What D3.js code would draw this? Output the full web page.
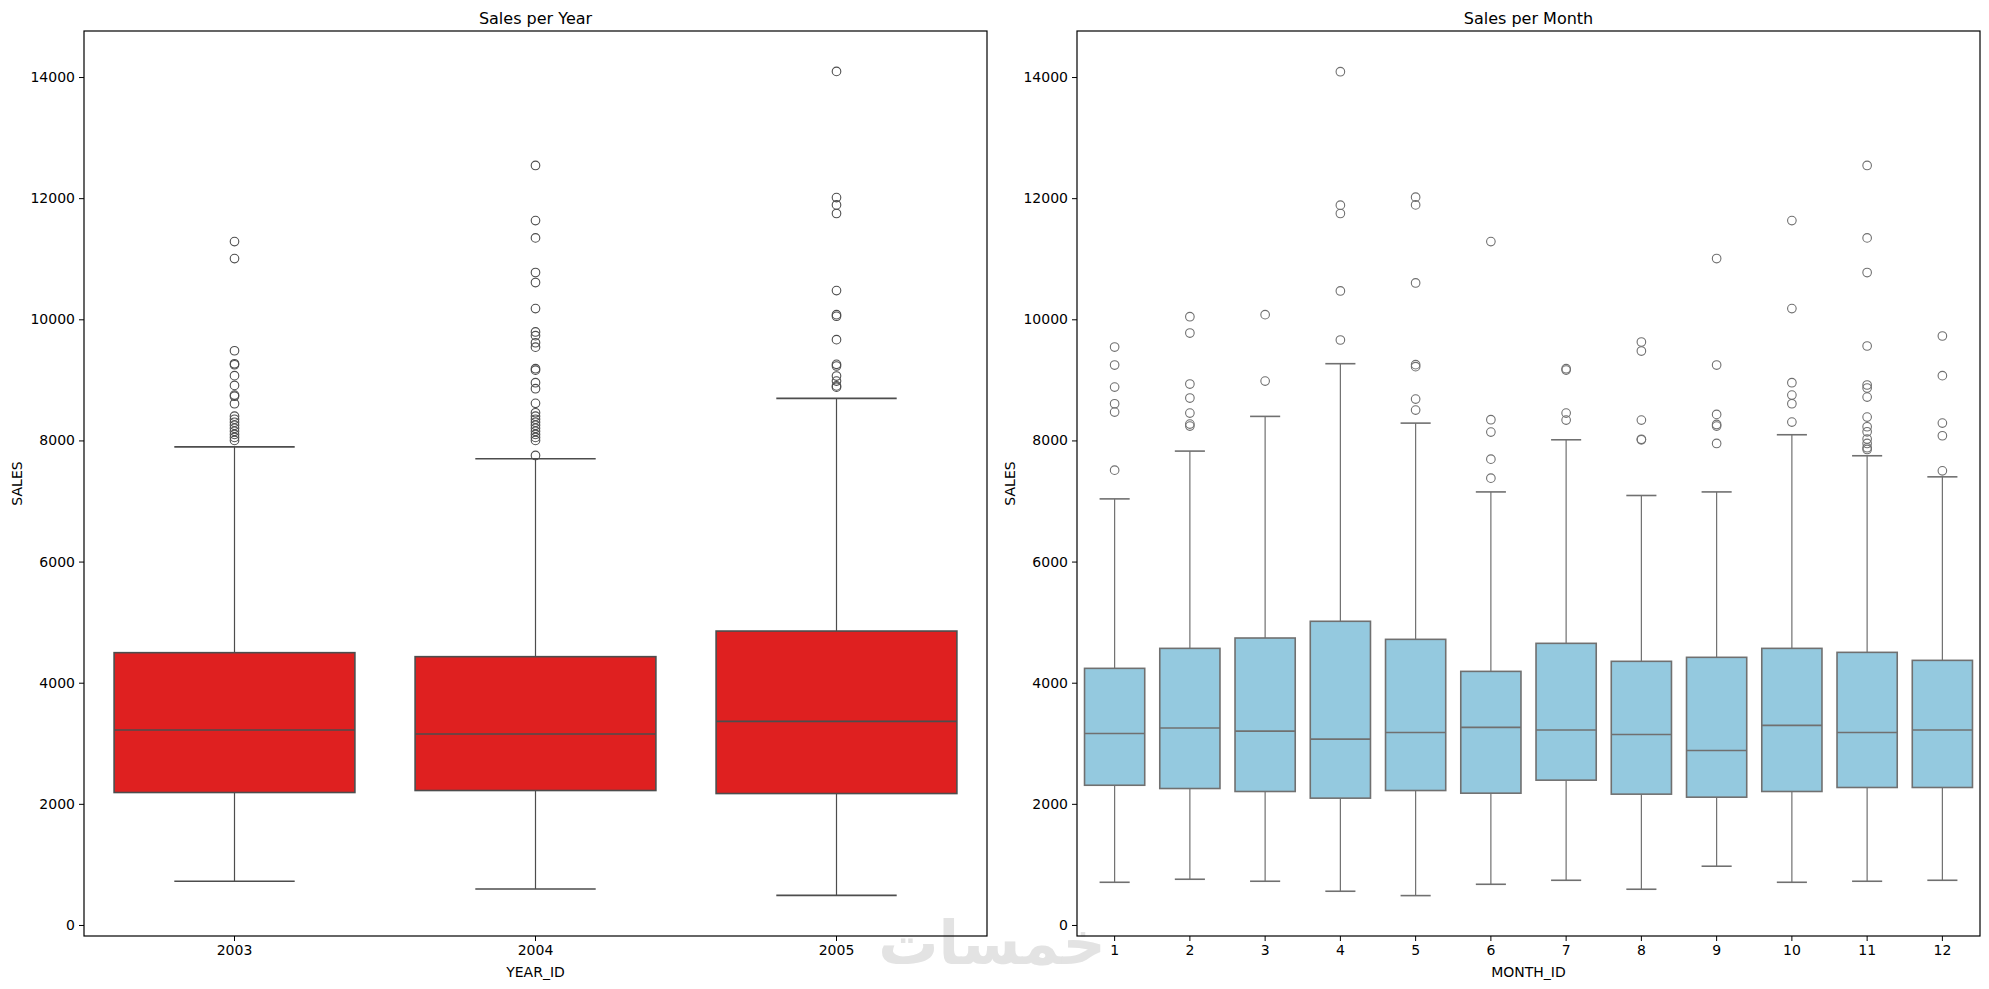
<!DOCTYPE html>
<html>
<head>
<meta charset="utf-8">
<script src="https://cdn.jsdelivr.net/npm/d3@7"></script>
<style>
  body { margin: 0; background: #fff; }
  text { font-family: "DejaVu Sans", sans-serif; fill: #000; }
  .tick text { font-size: 14px; }
  .tick line { stroke: #000; stroke-width: 1; }
  .title { font-size: 16px; }
  .label { font-size: 14px; }
</style>
</head>
<body>
<div id="viz"></div>
<script>
// --- yearly sales (box stats) ---
var years = ['2003', '2004', '2005'];
var yearLow = [722, 595, 489];
var yearQ1 = [2187, 2220, 2170];
var yearMed = [3218, 3152, 3361];
var yearQ3 = [4496, 4430, 4853];
var yearHigh = [7893, 7697, 8694];
var yearOut = [
  [11283, 11002, 9481, 9266, 9250, 9069, 8909, 8749, 8730, 8606, 8401, 8350, 8300, 8250, 8200, 8150, 8100, 8050, 8000],
  [12540, 11630, 11344, 10772, 10607, 10177, 9791, 9730, 9613, 9540, 9184, 9160, 8953, 8854, 8612, 8457, 8400, 8350, 8300, 8250, 8200, 8150, 8100, 8050, 8000, 7752],
  [14093, 12010, 11889, 11747, 10474, 10077, 10050, 9664, 9256, 9229, 9063, 8980, 8900, 8880]
];

// --- monthly sales ---
var months = ['1', '2', '3', '4', '5', '6', '7', '8', '9', '10', '11', '12'];
var monthLow = [705, 755, 722, 557, 485, 672, 738, 590, 970, 705, 722, 738];
var monthQ1 = [2307, 2253, 2204, 2094, 2220, 2176, 2391, 2160, 2110, 2204, 2270, 2270];
var monthMed = [3162, 3251, 3201, 3069, 3179, 3262, 3218, 3146, 2881, 3295, 3179, 3218];
var monthQ3 = [4237, 4567, 4738, 5014, 4716, 4187, 4650, 4353, 4419, 4567, 4501, 4369];
var monthHigh = [7035, 7824, 8397, 9267, 8286, 7150, 8011, 7091, 7150, 8094, 7747, 7399];
var monthOut = [
  [9542, 9245, 8881, 8606, 8468, 7509],
  [10043, 9773, 8931, 8700, 8452, 8270, 8237],
  [10077, 8980],
  [14088, 11884, 11747, 10468, 9658],
  [12017, 11889, 10600, 9251, 9218, 8683, 8501],
  [11283, 8342, 8138, 7691, 7377],
  [9184, 9162, 8452, 8336],
  [9625, 9476, 8336, 8020, 8010],
  [11003, 9245, 8430, 8264, 8237, 7950],
  [11630, 10177, 8953, 8749, 8606, 8303],
  [12540, 11344, 10772, 9559, 8915, 8865, 8716, 8386, 8226, 8143, 8024, 7950, 7879, 7851],
  [9724, 9069, 8286, 8077, 7498]
];

var yTicks = [0, 2000, 4000, 6000, 8000, 10000, 12000, 14000];

var W = 1989, H = 989;
var plotTop = 31, plotBottom = 936;

var svg = d3.select('#viz').append('svg')
  .attr('width', W)
  .attr('height', H);

// watermark
svg.append('text')
  .attr('x', 992)
  .attr('y', 964)
  .attr('text-anchor', 'middle')
  .style('font-size', '60px')
  .style('font-weight', 'bold')
  .style('fill', '#e3e3e3')
  .text('خمسات');

let yScale = d3.scaleLinear()
  .domain([-182, 14760])
  .range([plotBottom, plotTop]);

function boxPanel(cats, low, q1, med, q3, high, outs, left, right, fill, line, title, xLabel) {
  let data = cats.map((c, i) => ({
    cat: c, low: low[i], q1: q1[i], med: med[i], q3: q3[i], high: high[i], out: outs[i]
  }));

  let xScale = d3.scaleBand()
    .domain(cats)
    .range([left, right]);
  let bw = xScale.bandwidth() * 0.8;
  let cx = (d) => xScale(d.cat) + xScale.bandwidth() / 2;

  let g = svg.append('g');

  let boxes = g.selectAll('.box')
    .data(data)
    .enter()
    .append('g');

  // whiskers
  boxes.append('line')
    .attr('x1', cx).attr('x2', cx)
    .attr('y1', (d) => yScale(d.high)).attr('y2', (d) => yScale(d.q3))
    .attr('stroke', line).attr('stroke-width', 1.2);
  boxes.append('line')
    .attr('x1', cx).attr('x2', cx)
    .attr('y1', (d) => yScale(d.q1)).attr('y2', (d) => yScale(d.low))
    .attr('stroke', line).attr('stroke-width', 1.2);
  // caps
  ['high', 'low'].forEach((k) => {
    boxes.append('line')
      .attr('x1', (d) => cx(d) - bw / 4).attr('x2', (d) => cx(d) + bw / 4)
      .attr('y1', (d) => yScale(d[k])).attr('y2', (d) => yScale(d[k]))
      .attr('stroke', line).attr('stroke-width', 1.6);
  });

  boxes.append('rect')
    .attr('x', (d) => cx(d) - bw / 2)
    .attr('width', bw)
    .attr('y', (d) => yScale(d.q3))
    .attr('height', (d) => yScale(d.q1) - yScale(d.q3))
    .attr('fill', fill)
    .attr('stroke', line)
    .attr('stroke-width', 1.6);

  boxes.append('line')
    .attr('x1', (d) => cx(d) - bw / 2).attr('x2', (d) => cx(d) + bw / 2)
    .attr('y1', (d) => yScale(d.med)).attr('y2', (d) => yScale(d.med))
    .attr('stroke', line).attr('stroke-width', 1.6);

  // fliers
  boxes.each(function (d) {
    d3.select(this).selectAll('circle')
      .data(d.out)
      .enter()
      .append('circle')
      .attr('cx', cx(d))
      .attr('cy', (v) => yScale(v))
      .attr('r', 4.3)
      .attr('fill', 'none')
      .attr('stroke', line)
      .attr('stroke-width', 1.1);
  });

  // axes
  g.append('g')
    .attr('transform', `translate(0, ${plotBottom})`)
    .call(d3.axisBottom(xScale).tickSize(5).tickPadding(4))
    .call((a) => a.select('.domain').remove());

  g.append('g')
    .attr('transform', `translate(${left}, 0)`)
    .call(d3.axisLeft(yScale).tickValues(yTicks).tickFormat(d3.format('d')).tickSize(5).tickPadding(4))
    .call((a) => a.select('.domain').remove());

  g.selectAll('.tick text').style('font-family', '"DejaVu Sans", sans-serif').attr('fill', '#000');

  g.append('rect')
    .attr('x', left).attr('y', plotTop)
    .attr('width', right - left).attr('height', plotBottom - plotTop)
    .attr('fill', 'none').attr('stroke', '#000').attr('stroke-width', 1.2);

  g.append('text')
    .attr('class', 'title')
    .attr('x', (left + right) / 2)
    .attr('y', 23.5)
    .attr('text-anchor', 'middle')
    .text(title);

  g.append('text')
    .attr('class', 'label')
    .attr('x', (left + right) / 2)
    .attr('y', 977)
    .attr('text-anchor', 'middle')
    .text(xLabel);

  g.append('text')
    .attr('class', 'label')
    .attr('transform', `translate(${left - 62}, ${(plotTop + plotBottom) / 2}) rotate(-90)`)
    .attr('text-anchor', 'middle')
    .text('SALES');
}

boxPanel(years, yearLow, yearQ1, yearMed, yearQ3, yearHigh, yearOut,
  84, 987, '#df2020', '#4d4d4d', 'Sales per Year', 'YEAR_ID');
boxPanel(months, monthLow, monthQ1, monthMed, monthQ3, monthHigh, monthOut,
  1077, 1980, '#94c9df', '#707070', 'Sales per Month', 'MONTH_ID');
</script>
</body>
</html>
